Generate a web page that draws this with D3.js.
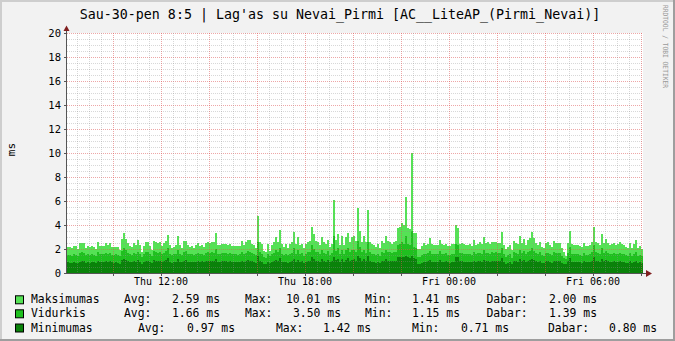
<!DOCTYPE html>
<html>
<head>
<meta charset="utf-8">
<script src="https://cdn.jsdelivr.net/npm/d3@7"></script>
<style>
body { margin:0; background:#f2f2f2; }
svg text { font-family:"DejaVu Sans Mono", monospace; fill:#000; }
</style>
</head>
<body>
<div id="chart-area"></div>
<script>
// RRD lag graph: 24h, 5 min steps

var title = "Sau-30-pen 8:5 | Lag'as su Nevai_Pirmi [AC__LiteAP_(Pirmi_Nevai)]";
var yLabel = "ms";
var yTicks = [0, 2, 4, 6, 8, 10, 12, 14, 16, 18, 20];
var xTickLabels = ["Thu 12:00", "Thu 18:00", "Fri 00:00", "Fri 06:00"];
var xTickHours = [4 - 5/60, 10 - 5/60, 16 - 5/60, 22 - 5/60]; // hours after start

var maxValues = [
	2.14,2.14,2.06,2.25,2.25,1.97,2.47,2.47,2.47,2.06,2.25,2.14,2.25,2.14,1.97,2.58,2.25,2.25,2.25,2.47,2.33,2.47,2.14,2.14,
	2.14,2.14,1.92,2.81,3.31,2.81,2.47,2.25,2.14,2.47,2.33,2.75,2.33,1.78,2.25,2.58,2.58,2.25,1.92,2.67,2.61,2.47,2.61,2.25,
	2.47,2.69,3.17,2.33,2.06,2.14,2.33,3.08,2.33,2.06,2.67,2.67,2.33,2.14,2.25,2.06,2.33,2.47,2.25,2.33,2.14,2.47,2.58,2.47,
	2.56,2.56,3.36,2.33,2.33,2.44,2.44,2.44,2.33,2.44,2.28,2.28,2.28,2.28,2.28,2.67,2.33,2.56,2.72,2.72,2.44,2.33,2.11,4.75,
	2.61,2.44,1.83,1.72,2.44,1.83,2.33,2.56,3.00,2.61,3.58,2.44,2.19,2.39,2.11,2.39,2.56,3.42,2.39,3.00,2.33,2.44,2.06,2.39,
	2.61,2.67,3.86,3.22,2.67,2.61,2.33,3.03,2.61,2.44,2.78,2.17,2.44,6.08,2.75,3.25,2.33,3.11,2.33,3.00,3.33,2.61,3.00,3.11,
	2.67,5.44,3.50,2.61,3.11,2.61,5.25,2.61,2.44,2.33,2.17,2.39,2.06,2.67,2.50,3.11,2.67,2.61,2.44,2.61,2.67,3.78,3.86,4.19,
	4.00,6.36,3.72,3.67,10.01,3.36,3.36,2.00,2.00,2.28,2.50,2.33,2.44,2.94,2.44,2.33,2.33,2.33,2.78,2.44,2.33,2.44,2.28,2.22,
	2.44,2.44,4.00,3.78,2.44,2.50,2.44,2.33,2.33,2.44,2.28,2.75,2.33,2.44,2.56,2.44,3.03,2.50,2.56,2.44,2.61,2.61,2.61,2.47,
	2.47,3.42,2.33,1.97,2.19,2.33,1.92,2.69,2.47,2.42,3.08,2.47,2.81,2.33,2.75,2.94,3.42,2.89,2.53,2.33,2.61,2.19,2.06,2.47,
	2.58,2.33,2.19,2.69,2.53,2.53,2.47,2.06,1.78,1.41,2.47,3.47,2.42,2.33,2.33,2.33,2.25,2.14,2.47,2.25,2.25,2.33,2.61,3.83,
	2.61,2.53,2.33,3.28,2.47,2.83,2.47,2.33,2.42,2.47,2.33,2.42,2.61,2.42,2.33,2.19,2.06,2.47,2.06,2.42,2.75,2.06,2.25,2.00
];

var avgValues = [
	1.52,1.48,1.45,1.55,1.50,1.42,1.68,1.72,1.70,1.48,1.55,1.50,1.58,1.52,1.45,1.78,1.60,1.55,1.62,1.70,1.58,1.66,1.52,1.50,
	1.55,1.48,1.40,1.85,2.05,1.90,1.70,1.58,1.52,1.68,1.60,1.78,1.62,1.35,1.55,1.72,1.75,1.60,1.45,1.80,1.78,1.70,1.74,1.58,
	1.66,1.80,2.10,1.62,1.48,1.55,1.60,1.95,1.62,1.50,1.78,1.82,1.62,1.55,1.58,1.50,1.62,1.70,1.58,1.62,1.52,1.68,1.75,1.70,
	1.72,1.70,1.98,1.62,1.60,1.66,1.64,1.66,1.58,1.64,1.55,1.58,1.55,1.52,1.56,1.75,1.60,1.70,1.80,1.78,1.66,1.60,1.50,2.60,
	1.72,1.62,1.35,1.28,1.60,1.40,1.58,1.70,1.90,1.72,2.10,1.62,1.52,1.60,1.48,1.62,1.70,2.05,1.60,1.92,1.58,1.64,1.42,1.60,
	1.72,1.75,2.30,2.00,1.75,1.72,1.58,1.95,1.70,1.62,1.80,1.50,1.66,3.10,1.82,2.05,1.60,1.95,1.62,1.92,2.10,1.72,1.90,1.95,
	1.78,2.70,2.20,1.72,1.95,1.70,2.60,1.72,1.62,1.58,1.50,1.60,1.45,1.75,1.66,1.95,1.75,1.72,1.64,1.72,1.75,2.30,2.40,2.55,
	2.45,3.10,2.40,2.35,3.50,2.20,2.10,1.35,1.30,1.50,1.62,1.55,1.64,1.85,1.62,1.55,1.58,1.58,1.80,1.62,1.55,1.64,1.52,1.48,
	1.62,1.60,2.45,2.35,1.64,1.66,1.62,1.55,1.58,1.62,1.52,1.78,1.55,1.64,1.70,1.62,1.90,1.66,1.70,1.62,1.72,1.70,1.72,1.66,
	1.66,2.10,1.58,1.30,1.48,1.55,1.28,1.72,1.64,1.62,1.95,1.66,1.80,1.55,1.78,1.85,2.05,1.85,1.70,1.55,1.72,1.48,1.40,1.64,
	1.70,1.55,1.48,1.78,1.68,1.70,1.64,1.40,1.28,1.15,1.64,2.15,1.62,1.55,1.58,1.55,1.50,1.45,1.64,1.52,1.50,1.55,1.72,2.30,
	1.72,1.68,1.55,2.05,1.64,1.85,1.66,1.58,1.62,1.64,1.55,1.60,1.70,1.62,1.58,1.48,1.40,1.64,1.42,1.60,1.78,1.42,1.50,1.39
];

var minValues = [
	0.88,0.85,0.82,0.90,0.86,0.80,0.95,1.00,0.98,0.84,0.90,0.86,0.92,0.88,0.80,1.02,0.92,0.90,0.95,1.00,0.92,0.98,0.88,0.86,
	0.90,0.85,0.78,1.05,1.20,1.10,0.98,0.92,0.88,0.98,0.94,1.05,0.95,0.76,0.90,1.00,1.02,0.95,0.84,1.05,1.04,1.00,1.02,0.92,
	0.96,1.05,1.22,0.95,0.86,0.90,0.94,1.15,0.95,0.88,1.04,1.08,0.95,0.90,0.92,0.88,0.95,1.00,0.92,0.96,0.88,0.98,1.02,1.00,
	1.00,0.98,1.15,0.95,0.94,0.97,0.96,0.97,0.92,0.96,0.90,0.92,0.90,0.88,0.91,1.02,0.94,1.00,1.05,1.04,0.97,0.94,0.86,1.38,
	1.00,0.95,0.78,0.74,0.94,0.82,0.92,1.00,1.10,1.00,1.22,0.95,0.88,0.94,0.86,0.95,1.00,1.18,0.94,1.12,0.92,0.96,0.82,0.94,
	1.00,1.02,1.30,1.15,1.02,1.00,0.92,1.14,1.00,0.95,1.05,0.88,0.97,1.35,1.06,1.18,0.94,1.14,0.95,1.12,1.22,1.00,1.10,1.14,
	1.04,1.40,1.25,1.00,1.14,1.00,1.38,1.00,0.95,0.92,0.86,0.94,0.84,1.02,0.97,1.14,1.02,1.00,0.96,1.00,1.02,1.30,1.32,1.36,
	1.32,1.42,1.30,1.28,1.40,1.22,1.18,0.78,0.74,0.86,0.95,0.90,0.96,1.08,0.95,0.90,0.92,0.92,1.05,0.95,0.90,0.96,0.88,0.85,
	0.95,0.94,1.35,1.30,0.96,0.97,0.95,0.90,0.92,0.95,0.88,1.04,0.90,0.96,1.00,0.95,1.10,0.97,1.00,0.95,1.00,1.00,1.00,0.97,
	0.97,1.22,0.92,0.75,0.86,0.90,0.74,1.00,0.96,0.95,1.14,0.97,1.05,0.90,1.04,1.08,1.18,1.08,1.00,0.90,1.00,0.86,0.82,0.96,
	1.00,0.90,0.86,1.04,0.98,1.00,0.96,0.82,0.74,0.71,0.96,1.24,0.95,0.90,0.92,0.90,0.88,0.84,0.96,0.88,0.88,0.90,1.00,1.30,
	1.00,0.98,0.90,1.18,0.96,1.08,0.97,0.92,0.95,0.96,0.90,0.94,1.00,0.95,0.92,0.86,0.82,0.96,0.83,0.94,1.04,0.83,0.88,0.80
];

var seriesNames = ["Maksimumas", "Vidurkis", "Minimumas"];
var seriesColors = ["#55e255", "#1fc01f", "#0a820a"];
var statAvg = ["2.59", "1.66", "0.97"];
var statMax = ["10.01", "3.50", "1.42"];
var statMin = ["1.41", "1.15", "0.71"];
var statLast = ["2.00", "1.39", "0.80"];

var W = 675, H = 341;
var plotLeft = 67, plotRight = 643, plotTop = 33, plotBottom = 273;

var start = new Date(Date.UTC(2009, 0, 29, 8, 5));
var end = new Date(start.getTime() + 24 * 3600 * 1000);
var step = 300 * 1000;

var svg = d3.select("#chart-area")
	.append("svg")
		.attr("width", W)
		.attr("height", H);

// background + 3d frame
svg.append("rect").attr("width", W).attr("height", H).attr("fill", "#f2f2f2");
svg.append("path").attr("d", "M0,0H" + W + "V2H2V" + H + "H0Z").attr("fill", "#cecece");
svg.append("path").attr("d", "M" + W + ",0V" + H + "H0V" + (H - 2) + "H" + (W - 2) + "V0Z").attr("fill", "#9e9e9e");

svg.append("rect")
	.attr("x", plotLeft).attr("y", plotTop)
	.attr("width", plotRight - plotLeft).attr("height", plotBottom - plotTop)
	.attr("fill", "#fff");

var x = d3.scaleUtc().domain([start, end]).range([plotLeft, plotRight]);
var y = d3.scaleLinear().domain([0, 20]).range([plotBottom, plotTop]);

function timeAt(i) { return new Date(start.getTime() + i * step); }

var area = d3.area()
	.curve(d3.curveStepAfter)
	.x(function(d, i){ return x(timeAt(i)); })
	.y0(y(0))
	.y1(function(d){ return y(d); });

[maxValues, avgValues, minValues].forEach(function(vals, k){
	svg.append("path")
		.attr("d", area(vals.concat([vals[vals.length - 1]])))
		.attr("fill", seriesColors[k])
		.attr("shape-rendering", "crispEdges");
});

// grid
var minorCol = "rgba(143,143,143,0.35)", majorCol = "rgba(222,79,79,0.5)";
var grid = svg.append("g").attr("shape-rendering", "crispEdges");
var hMinor = d3.range(0.5, 20.01, 0.5).filter(function(v){ return v % 2 !== 0; });
grid.selectAll(".hmin").data(hMinor).enter().append("line")
	.attr("x1", plotLeft).attr("x2", plotRight)
	.attr("y1", function(d){ return Math.round(y(d)) + 0.5; })
	.attr("y2", function(d){ return Math.round(y(d)) + 0.5; })
	.attr("stroke", minorCol).attr("stroke-dasharray", "1,1");
grid.selectAll(".hmaj").data(yTicks.slice(1)).enter().append("line")
	.attr("x1", plotLeft).attr("x2", plotRight)
	.attr("y1", function(d){ return Math.round(y(d)) + 0.5; })
	.attr("y2", function(d){ return Math.round(y(d)) + 0.5; })
	.attr("stroke", majorCol).attr("stroke-dasharray", "1,1");

var halfHours = d3.utcMinute.every(30).range(new Date(start.getTime() + 1), end);
function isMajor(d){ return d.getUTCMinutes() === 0 && d.getUTCHours() % 2 === 0; }
grid.selectAll(".vmin").data(halfHours).enter().append("line")
	.attr("y1", plotTop).attr("y2", plotBottom)
	.attr("x1", function(d){ return Math.round(x(d)) + 0.5; })
	.attr("x2", function(d){ return Math.round(x(d)) + 0.5; })
	.attr("stroke", function(d){ return isMajor(d) ? majorCol : minorCol; })
	.attr("stroke-dasharray", "1,1");

// axes
var axisColor = "#555";
var arrowColor = "#801f1f";
svg.append("line").attr("x1", plotLeft - 0.5).attr("x2", plotLeft - 0.5)
	.attr("y1", plotBottom + 1).attr("y2", 29)
	.attr("stroke", axisColor);
svg.append("line").attr("x1", plotLeft - 3).attr("x2", 647)
	.attr("y1", plotBottom + 0.5).attr("y2", plotBottom + 0.5)
	.attr("stroke", axisColor);
svg.append("path").attr("d", "M63.5,31L69.5,31L66.5,25.5Z").attr("fill", arrowColor);
svg.append("path").attr("d", "M646,270L646,277L652,273.5Z").attr("fill", arrowColor);

// y ticks and labels
svg.selectAll(".ytick").data(yTicks).enter().append("line")
	.attr("x1", plotLeft - 3).attr("x2", plotLeft)
	.attr("y1", function(d){ return Math.round(y(d)) + 0.5; })
	.attr("y2", function(d){ return Math.round(y(d)) + 0.5; })
	.attr("stroke", axisColor);
svg.selectAll(".ylab").data(yTicks).enter().append("text")
	.attr("x", 61)
	.attr("y", function(d){ return y(d) + 4; })
	.attr("text-anchor", "end")
	.attr("font-size", "10.5px")
	.text(function(d){ return d; });

// x major ticks
var twoHours = halfHours.filter(isMajor);
svg.selectAll(".xtick").data(twoHours).enter().append("line")
	.attr("y1", plotBottom + 1).attr("y2", plotBottom + 3)
	.attr("x1", function(d){ return Math.round(x(d)) + 0.5; })
	.attr("x2", function(d){ return Math.round(x(d)) + 0.5; })
	.attr("stroke", axisColor);

svg.selectAll(".xlab").data(xTickLabels).enter().append("text")
	.attr("x", function(d, i){ return x(new Date(start.getTime() + xTickHours[i] * 3600 * 1000)); })
	.attr("y", 285)
	.attr("text-anchor", "middle")
	.attr("font-size", "10px")
	.text(function(d){ return d; });

// title
svg.append("text")
	.attr("x", 340).attr("y", 19)
	.attr("text-anchor", "middle")
	.attr("font-size", "13.3px")
	.text(title);

// y label
svg.append("text")
	.attr("transform", "translate(14.5,149.5) rotate(-90)")
	.attr("text-anchor", "middle")
	.attr("font-size", "11px")
	.text(yLabel);

// watermark
svg.append("text")
	.attr("transform", "translate(663,5) rotate(90)")
	.attr("font-size", "7px")
	.attr("textLength", 83)
	.attr("lengthAdjust", "spacingAndGlyphs")
	.style("fill", "#9a9a9a")
	.text("RRDTOOL / TOBI OETIKER");

// legend
var rowY = [303.3, 317.3, 331.5];
var colX = [
	[124, 172, 245, 286, 365, 412, 486.5, 549],
	[124, 172, 245, 293, 365, 412, 486.5, 549],
	[138, 187, 276, 323, 412, 461, 548, 609]
];
seriesNames.forEach(function(name, k){
	var g = svg.append("g").attr("font-size", "11.4px");
	svg.append("rect")
		.attr("x", 15.5).attr("y", rowY[k] - 7.5)
		.attr("width", 8).attr("height", 8)
		.attr("fill", seriesColors[k])
		.attr("stroke", "#000");
	var parts = ["Avg:", statAvg[k] + " ms", "Max:", statMax[k] + " ms",
		"Min:", statMin[k] + " ms", "Dabar:", statLast[k] + " ms"];
	g.append("text").attr("x", 31).attr("y", rowY[k]).text(name);
	parts.forEach(function(p, j){
		g.append("text").attr("x", colX[k][j]).attr("y", rowY[k]).text(p);
	});
});
</script>
</body>
</html>
